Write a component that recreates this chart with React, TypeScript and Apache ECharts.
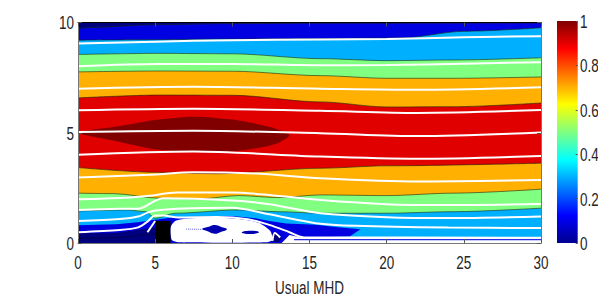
import React, { useEffect, useRef } from "react";
import * as echarts from "echarts";

type P = number[];
const NAVY = "#00007f", BLUE = "#0000e0", SKY = "#00b0ff", GREEN = "#80ff80", ORANGE = "#ffb000", RED = "#e00000", DARK = "#800000";
const xTicks = [0, 5, 10, 15, 20, 25, 30];
const yTicks = [0, 5, 10];
const barTicks = [0, 0.2, 0.4, 0.6, 0.8, 1];
const xTitle = "Usual MHD";
const jetStops: [number, string][] = [[0, "#00008f"], [0.125, "#0000ff"], [0.375, "#00ffff"], [0.625, "#ffff00"], [0.875, "#ff0000"], [1, "#800000"]];

// contour band limits, painted from the top of the plot downward
const topNavy: P[] = [[0, 10], [30, 10]];
const topBlue: P[] = [[0, 9.73], [1, 9.78], [5, 9.9], [10, 9.95], [15.7, 9.97], [30, 9.98]];
const skyTop: P[] = [[0, 9.2], [5, 9.22], [10, 9.25], [15.7, 9.27], [21, 9.3], [25, 9.6], [30, 9.76]];
const greenTop: P[] = [[0, 8.55], [5.3, 8.6], [10, 8.58], [15.7, 8.36], [20, 8.27], [24.3, 8.3], [30, 8.4]];
const orangeTop: P[] = [[0, 7.76], [5.3, 7.8], [10, 7.79], [15.7, 7.59], [20, 7.47], [24.3, 7.47], [30, 7.53]];
const redTop: P[] = [[0, 6.58], [5.3, 6.71], [10, 6.7], [15.7, 6.4], [20, 6.17], [24.3, 6.18], [30, 6.35]];
const orangeLow: P[] = [[0, 3.42], [5.3, 3.2], [9, 3.14], [15.7, 3.39], [20, 3.5], [30, 3.62]];
const greenLow: P[] = [[0, 2.26], [2.3, 2.24], [5.3, 2.03], [7.9, 2.0], [10.4, 2.15], [13, 2.06], [15.7, 2.18], [20, 2.15], [24.3, 2.26], [30, 2.44]];
const skyLow: P[] = [[0, 1.45], [3.2, 1.5], [4.4, 1.42], [5, 1.12], [6.3, 1.35], [10.3, 1.5], [13, 1.42], [15.7, 1.35], [20, 1.35], [24.3, 1.42], [30, 1.58]];

const darkCore: P[] = [[0, 5], [2.5, 5.28], [5, 5.58], [7.5, 5.73], [10, 5.6], [12.5, 5.25], [13.7, 4.9], [13, 4.55], [12, 4.35], [10, 4.15], [7.5, 4.13], [5, 4.25], [2.5, 4.62]];
const blueWake: P[] = [[0, 0.8], [2.5, 0.85], [4, 0.95], [5, 1.05], [6, 1.14], [8, 1.2], [10, 1.22], [11.5, 1.12], [12.4, 1.0], [13.5, 0.88], [15.4, 0.83], [16.7, 0.72], [18.3, 0.62], [17.6, 0.29], [14.6, 0.24], [14, 0], [0, 0]];
const navyCorner: P[] = [[0, 0.44], [2.5, 0.47], [4.7, 0.68], [5, 0.72], [5, 0], [0, 0]];
const navyBack: P[] = [[12.5, 0.4], [12.8, 0.5], [13.2, 0.2], [13, 0.05], [12.6, 0.05]];
const step: P[] = [[5, 0], [5, 1], [6, 1], [6, 0]];
const bubble: P[] = [[6.02, 0.3], [6.02, 0.75], [6.3, 1.0], [7, 1.1], [9, 1.14], [10.5, 1.08], [11.7, 0.92], [12.45, 0.55], [12.6, 0.15], [12.2, 0.03], [6.5, 0.03], [6.1, 0.12]];
const eddyA: P[] = [[8.05, 0.63], [8.4, 0.72], [8.85, 0.82], [9.25, 0.74], [9.65, 0.62], [9.25, 0.5], [8.85, 0.42], [8.4, 0.53]];
const eddyB: P[] = [[10.6, 0.48], [11.15, 0.56], [11.73, 0.49], [11.15, 0.41]];
const wakeFloor: P[] = [[13.2, 0], [13.7, 0.36], [14.6, 0.23], [30, 0.22], [30, 0]];

// streamlines
const stream1: P[] = [[0, 9.05], [5, 9.13], [10, 9.2], [15.7, 9.23], [20, 9.25], [25, 9.33], [30, 9.38]];
const stream2: P[] = [[0, 8.02], [5.3, 8.12], [10, 8.12], [15.7, 8.06], [20, 8.07], [25, 8.13], [30, 8.2]];
const stream3: P[] = [[0, 7.0], [7.5, 7.09], [15.7, 7.0], [22, 6.95], [30, 7.06]];
const stream4: P[] = [[0, 6.02], [7.5, 6.09], [15.7, 6.0], [22, 5.9], [30, 6.03]];
const stream5: P[] = [[0, 5.03], [7.5, 5.09], [15.7, 4.98], [22, 4.85], [30, 5.01]];
const stream6: P[] = [[0, 4.0], [7.5, 4.15], [15.7, 3.92], [22, 3.82], [30, 3.95]];
const stream7: P[] = [[0, 2.97], [4.6, 3.09], [7.5, 3.21], [11.5, 3.15], [15.7, 2.94], [22, 2.79], [30, 2.86]];
const stream8: P[] = [[0, 1.98], [3, 2.05], [4.6, 2.14], [6.4, 2.29], [10, 2.29], [12.4, 2.18], [15.7, 1.95], [20, 1.76], [24, 1.72], [30, 1.77]];
const stream9: P[] = [[0, 1.5], [2.7, 1.55], [4, 1.57], [4.9, 1.88], [5.5, 2.03], [10, 1.93], [12.4, 1.76], [15.7, 1.35], [20, 1.17], [24, 1.13], [30, 1.2]];
const stream10: P[] = [[0, 1.0], [2.7, 1.09], [3.9, 1.2], [4.5, 1.38], [5, 1.47], [6.4, 1.55], [10, 1.6], [12.4, 1.3], [15.4, 0.9], [18, 0.78], [24, 0.7], [30, 0.68]];
const stream11: P[] = [[0, 0.49], [2.7, 0.59], [3.9, 0.71], [4.5, 0.97], [5, 1.25], [5.5, 1.25], [6.5, 1.16], [9, 1.18], [11, 1.08], [12.4, 0.82], [13.7, 0.49], [14.6, 0.26], [30, 0.24]];
const streak: P[] = [[4.5, 0.49], [5, 1.0]];
const backLoop: P[] = [[12.6, 0.1], [12.75, 0.45], [13.1, 0.25]];
const floorLine: P[] = [[14, 0.15], [30, 0.15]];
const eddyDots: P[] = [[7, 0.63], [8.05, 0.62]];
const cornerContour: P[] = [[0, 0.22], [2.5, 0.25], [5, 0.42]];

const layer = (data: P[], fill: string) => ({
  type: "line", data, smooth: 0.3, smoothMonotone: "x", symbol: "none", silent: true,
  lineStyle: { color: "#1a2a10", width: 0.6 }, areaStyle: { color: fill, opacity: 1, origin: "start" },
});
const stream = (data: P[], color = "#ffffff", width = 2, extra: object = {}) => ({
  type: "line", data, smooth: 0.3, symbol: "none", silent: true, lineStyle: { color, width, ...extra },
});
const blob = (pts: P[], fill: string, smooth = 0) => ({
  type: "custom", data: pts, silent: true,
  renderItem: (params: any, api: any) => params.dataIndex !== 0 ? null : ({
    type: "polygon",
    shape: { points: pts.map((p) => api.coord(p)), smooth },
    style: { fill },
  }),
});

const AXIS_Z = 100;
const frame = { lineStyle: { color: "#777777", width: 1 } };
const ticks = { show: true, inside: true, length: 4, lineStyle: { color: "#555555", width: 1 } };
const hidden = { show: false };
const TEXT = { fontFamily: "'Liberation Sans',sans-serif", fontSize: 19, fill: "#262626" };
const SQUEEZE = 0.71;

export default function App() {
  const ref = useRef<HTMLDivElement>(null);
  useEffect(() => {
    const chart = echarts.init(ref.current!, undefined, { renderer: "svg" });
    const plot = [
      layer(topNavy, NAVY), layer(topBlue, BLUE), layer(skyTop, SKY), layer(greenTop, GREEN), layer(orangeTop, ORANGE), layer(redTop, RED),
      blob(darkCore, DARK, 0.25),
      layer(orangeLow, ORANGE), layer(greenLow, GREEN), layer(skyLow, SKY),
      blob(blueWake, BLUE), blob(navyCorner, NAVY), blob(navyBack, NAVY),
      stream(cornerContour, "#000033", 0.6),
      blob(step, "#000000"), blob(bubble, "#ffffff", 0.25), blob(eddyA, "#0000b0", 0.5), blob(eddyB, "#0000b0", 0.5),
      blob(wakeFloor, "#ffffff"),
      stream(floorLine, "#2a2ae0", 1.2),
      stream(eddyDots, "#6060e0", 1, { type: "dotted" }),
      ...[stream1, stream2, stream3, stream4, stream5, stream6, stream7, stream8, stream9, stream10, stream11, streak, backLoop].map((s) => stream(s)),
    ].map((s, i) => ({ ...s, z: 3 + i }));
    chart.setOption({
      animation: false,
      backgroundColor: "#ffffff",
      grid: [
        { left: 78, right: 57, top: 22.5, bottom: 56 },
        { left: 557, width: 20.7, top: 21, bottom: 56 },
      ],
      xAxis: [
        { type: "value", gridIndex: 0, min: 0, max: 30, interval: 5, position: "bottom", z: AXIS_Z, splitLine: hidden, axisLine: { show: true, onZero: false, ...frame }, axisTick: ticks, axisLabel: hidden },
        { type: "value", gridIndex: 0, min: 0, max: 30, interval: 5, position: "top", z: AXIS_Z, splitLine: hidden, axisLine: { show: true, onZero: false, lineStyle: { color: "#000000", width: 1 } }, axisTick: ticks, axisLabel: hidden },
        { type: "category", gridIndex: 1, data: ["c"], axisLine: hidden, axisTick: hidden, axisLabel: hidden },
      ],
      yAxis: [
        { type: "value", gridIndex: 0, min: 0, max: 10, interval: 5, position: "left", z: AXIS_Z, splitLine: hidden, axisLine: { show: true, onZero: false, ...frame }, axisTick: ticks, axisLabel: hidden },
        { type: "value", gridIndex: 0, min: 0, max: 10, interval: 5, position: "right", z: AXIS_Z, splitLine: hidden, axisLine: { show: true, onZero: false, ...frame }, axisTick: ticks, axisLabel: hidden },
        { type: "value", gridIndex: 1, min: 0, max: 1, interval: 0.2, position: "right", z: AXIS_Z, splitLine: hidden, axisLine: hidden, axisTick: { show: true, inside: true, length: 2, lineStyle: { color: "#555555" } }, axisLabel: hidden },
      ],
      series: [
        ...plot,
        {
          type: "bar", xAxisIndex: 2, yAxisIndex: 2, data: [1], barWidth: "100%", silent: true,
          itemStyle: { color: new echarts.graphic.LinearGradient(0, 1, 0, 0, jetStops.map(([offset, color]) => ({ offset, color }))) },
        },
      ],
    });
    const label = (text: string, x: number, y: number, align: string) => ({
      type: "text", x, y, scaleX: SQUEEZE, z: AXIS_Z, silent: true,
      style: { ...TEXT, text, textAlign: align, textVerticalAlign: "middle" },
    });
    const bottomPx = chart.convertToPixel({ yAxisIndex: 0 }, 0);
    const leftPx = chart.convertToPixel({ xAxisIndex: 0 }, 0);
    const rightPx = chart.convertToPixel({ xAxisIndex: 0 }, 30);
    chart.setOption({
      graphic: [
        ...xTicks.map((v) => label(String(v), chart.convertToPixel({ xAxisIndex: 0 }, v), bottomPx + 19, "center")),
        ...yTicks.map((v) => label(String(v), leftPx - 4, chart.convertToPixel({ yAxisIndex: 0 }, v), "right")),
        ...barTicks.map((v) => label(String(v), 580, chart.convertToPixel({ yAxisIndex: 2 }, v), "left")),
        label(xTitle, (leftPx + rightPx) / 2, bottomPx + 44, "center"),
      ],
    });
    return () => chart.dispose();
  }, []);
  return <div ref={ref} style={{ position: "fixed", left: 0, top: 0, width: 598, height: 299 }} />;
}
